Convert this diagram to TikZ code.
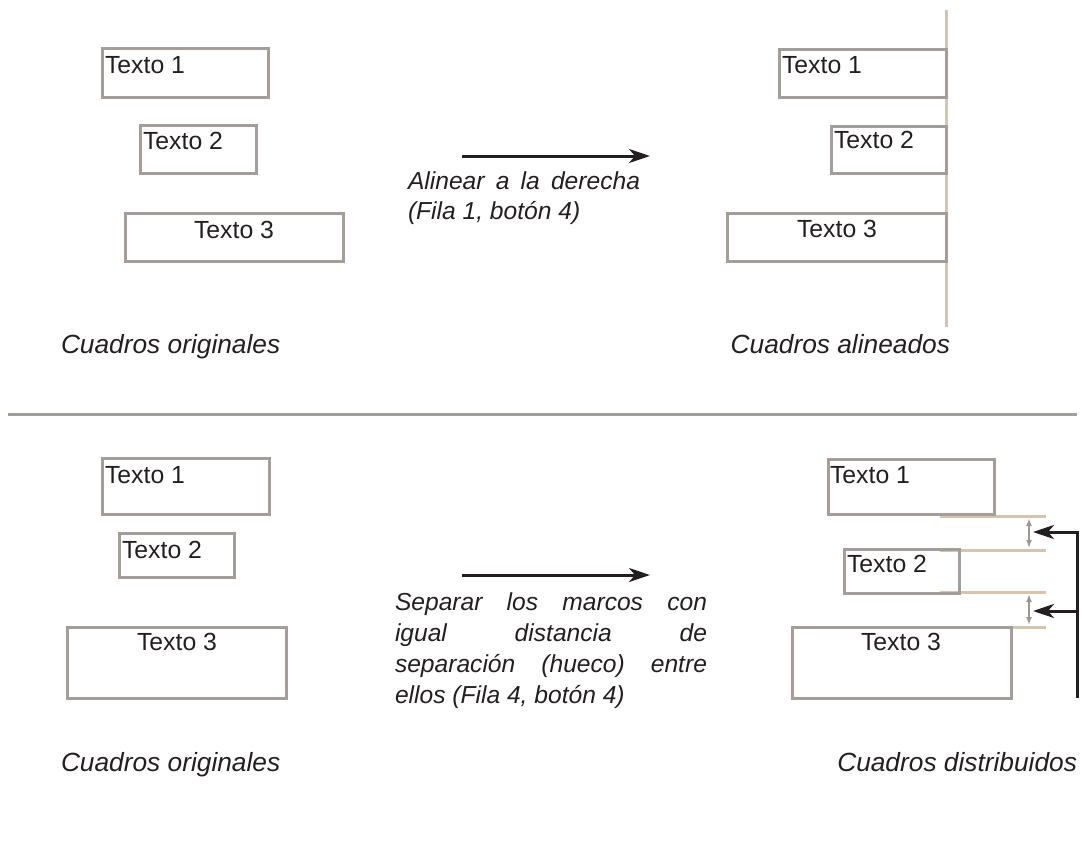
\documentclass[tikz,border=0pt]{standalone}
\usepackage{fontspec}
\setmainfont{Liberation Sans}
\usetikzlibrary{arrows.meta}
\definecolor{boxgray}{HTML}{A39E99}
\definecolor{tanline}{HTML}{D6C5AE}
\definecolor{ink}{HTML}{231F20}
\definecolor{gapgray}{HTML}{A09890}
\begin{document}
\begin{tikzpicture}[x=1pt,y=-1pt,
  box/.style={draw=boxgray, line width=3pt, rectangle, inner sep=0pt, outer sep=0pt, anchor=north west},
  txt/.style={text=ink, inner sep=0pt, outer sep=0pt, font=\fontsize{24.8}{30}\selectfont},
  para/.style={text=ink, inner sep=0pt, outer sep=0pt, anchor=base west, font=\fontsize{24.6}{30}\selectfont\itshape},
  captxt/.style={text=ink, inner sep=0pt, outer sep=0pt, font=\fontsize{26.3}{30}\selectfont\itshape},
  bigarrow/.style={draw=ink, line width=3pt, -{Stealth[length=21pt,width=14pt,inset=6pt]}},
  gaparrow/.style={draw=gapgray, line width=2pt, {Latex[length=8pt,width=6pt]}-{Latex[length=8pt,width=6pt]}},
  guide/.style={draw=tanline, line width=3pt}]
\useasboundingbox (0,0) rectangle (1082,865);

% ---------- top left: original boxes
\node[box, minimum width=166pt, minimum height=49pt] (a1) at (102,48) {};
\node[box, minimum width=116pt, minimum height=48pt] (a2) at (140,125) {};
\node[box, minimum width=218pt, minimum height=48pt] (a3) at (125,213) {};
\node[txt, anchor=base west] (a1t) at (105,73) {Texto 1};
\node[txt, anchor=base west] (a2t) at (143,149) {Texto 2};
\node[txt, anchor=base] (a3t) at (234,238) {Texto 3};
\node[captxt, anchor=base west] (capa) at (61,353) {Cuadros originales};

% ---------- top middle
\coordinate (r1s) at (462,156);
\coordinate (r1e) at (650,156);
\draw[bigarrow] (r1s) -- (r1e);
\node[para] (p1a) at (408,189) {\makebox[232pt][s]{Alinear a la derecha}};
\node[para] (p1b) at (408,219) {(Fila 1, botón 4)};

% ---------- top right: aligned boxes
\coordinate (vt) at (946,10);
\coordinate (vb) at (946,327);
\draw[guide] (vt) -- (vb);
\node[box, minimum width=167pt, minimum height=48pt] (b1) at (779,49) {};
\node[box, minimum width=115pt, minimum height=47pt] (b2) at (831,126) {};
\node[box, minimum width=219pt, minimum height=48pt] (b3) at (727,213) {};
\node[txt, anchor=base west] (b1t) at (782,73) {Texto 1};
\node[txt, anchor=base west] (b2t) at (834,148) {Texto 2};
\node[txt, anchor=base] (b3t) at (837,237) {Texto 3};
\node[captxt, anchor=base east] (capb) at (950,353) {Cuadros alineados};

% ---------- divider
\coordinate (dl) at (8,414);
\coordinate (dr) at (1077,414);
\draw[draw=boxgray, line width=3pt] (dl) -- (dr);

% ---------- bottom left: original boxes
\node[box, minimum width=167pt, minimum height=56pt] (c1) at (102,458) {};
\node[box, minimum width=115pt, minimum height=44pt] (c2) at (119,533) {};
\node[box, minimum width=219pt, minimum height=71pt] (c3) at (67,627) {};
\node[txt, anchor=base west] (c1t) at (105,483) {Texto 1};
\node[txt, anchor=base west] (c2t) at (122,558) {Texto 2};
\node[txt, anchor=base] (c3t) at (177,650) {Texto 3};
\node[captxt, anchor=base west] (capc) at (61,771) {Cuadros originales};

% ---------- bottom middle
\coordinate (r2s) at (462,575);
\coordinate (r2e) at (650,575);
\draw[bigarrow] (r2s) -- (r2e);
\node[para] (p2a) at (395,610) {\makebox[312pt][s]{Separar los marcos con}};
\node[para] (p2b) at (395,641) {\makebox[312pt][s]{igual distancia de}};
\node[para] (p2c) at (395,672) {\makebox[312pt][s]{separación (hueco) entre}};
\node[para] (p2d) at (395,703) {ellos (Fila 4, botón 4)};

% ---------- bottom right: distributed boxes
\coordinate (g1l) at (940,516); \coordinate (g1r) at (1046,516);
\coordinate (g2l) at (940,550); \coordinate (g2r) at (1046,550);
\coordinate (g3l) at (940,592); \coordinate (g3r) at (1046,592);
\coordinate (g4l) at (940,627); \coordinate (g4r) at (1046,627);
\draw[guide] (g1l) -- (g1r);
\draw[guide] (g2l) -- (g2r);
\draw[guide] (g3l) -- (g3r);
\draw[guide] (g4l) -- (g4r);
\node[box, minimum width=166pt, minimum height=55pt] (d1) at (828,459) {};
\node[box, minimum width=115pt, minimum height=44pt] (d2) at (844,549) {};
\node[box, minimum width=219pt, minimum height=71pt] (d3) at (792,627) {};
\node[txt, anchor=base west] (d1t) at (830,483) {Texto 1};
\node[txt, anchor=base west] (d2t) at (847,572) {Texto 2};
\node[txt, anchor=base] (d3t) at (901,650) {Texto 3};
\node[captxt, anchor=base east] (capd) at (1077,771) {Cuadros distribuidos};

\coordinate (ga1) at (1029,518); \coordinate (ga2) at (1029,548);
\coordinate (gb1) at (1029,594); \coordinate (gb2) at (1029,625);
\draw[gaparrow] (ga1) -- (ga2);
\draw[gaparrow] (gb1) -- (gb2);

\coordinate (kb) at (1077,698);
\coordinate (kc) at (1077,532);
\coordinate (kt1) at (1033,532);
\coordinate (km) at (1077,611);
\coordinate (kt2) at (1033,611);
\draw[bigarrow] (kb) -- (kc) -- (kt1);
\draw[bigarrow] (km) -- (kt2);
\end{tikzpicture}
\end{document}
